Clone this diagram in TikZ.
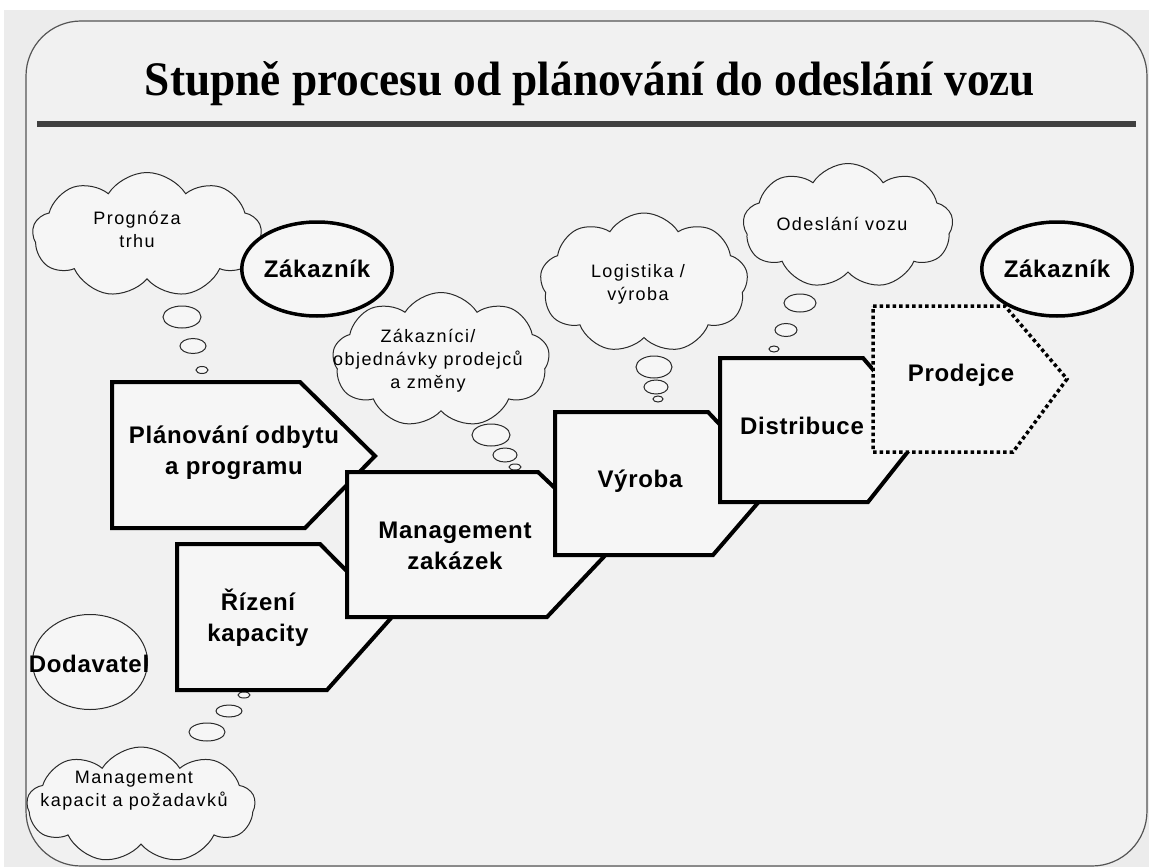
\documentclass[tikz,border=0pt]{standalone}
\usepackage{graphicx}
\usepackage{fontspec}
\setmainfont{Liberation Sans}
\newfontfamily\titlefont{Liberation Serif}
\newfontfamily\cloudfont[LetterSpace=8]{Liberation Sans}
\newfontfamily\boxfont[LetterSpace=3]{Liberation Sans}
\usetikzlibrary{shapes.symbols,shapes.geometric}
\definecolor{outerfill}{HTML}{ECECEC}
\definecolor{framefill}{HTML}{F1F1F1}
\definecolor{framegray}{HTML}{555555}
\definecolor{boxfill}{HTML}{F6F6F6}
\definecolor{linegray}{HTML}{2A2A2A}
\definecolor{rulegray}{HTML}{404040}
\tikzset{
  stagebox/.style={draw=black, line width=4pt, fill=boxfill, line join=miter},
  dottedbox/.style={draw=black, line width=3.5pt, fill=boxfill, dash pattern=on 3.5pt off 3pt},
  cloudbox/.style={cloud, cloud puffs=9, cloud puff arc=115, draw=linegray, line width=1pt, fill=boxfill, inner sep=0pt},
  bubble/.style={ellipse, draw=linegray, line width=1pt, fill=boxfill, inner sep=0pt},
  custlabel/.style={ellipse, draw=black, line width=3.5pt, fill=boxfill, inner sep=0pt, minimum width=130pt, minimum height=94pt, font=\boxfont\bfseries\fontsize{24}{28}\selectfont},
  boxtext/.style={align=center, inner sep=0pt, font=\boxfont\bfseries\fontsize{24}{31}\selectfont},
  cloudtext/.style={align=center, inner sep=0pt, font=\cloudfont\fontsize{18}{23}\selectfont}
}
\begin{document}
\begin{tikzpicture}[x=1pt,y=-1pt]
\useasboundingbox (0,0) rectangle (1149,867);
\fill[white] (0,0) rectangle (1149,867);
\fill[outerfill] (4,10) rectangle (1149,867);
\draw[draw=framegray, line width=1.2pt, fill=framefill, rounded corners=55pt] (26,21) rectangle (1147,866);
% title and rule
\node[anchor=base, inner sep=0pt] (title) at (590,95) {\resizebox{890pt}{34pt}{\titlefont\bfseries Stupně procesu od plánování do odeslání vozu}};
\coordinate (ruleL) at (37,124);
\coordinate (ruleR) at (1136,124);
\draw[rulegray, line width=6pt] (ruleL) -- (ruleR);

% clouds
\node[cloudbox, minimum width=229pt, minimum height=125pt] (cprog) at (147,235) {};
\node[cloudtext] (tprog) at (137,229) {Prognóza\\trhu};
\node[bubble, minimum width=38pt, minimum height=22pt] (pb1) at (182,317) {};
\node[bubble, minimum width=26pt, minimum height=15pt] (pb2) at (193,346) {};
\node[bubble, minimum width=12pt, minimum height=7pt] (pb3) at (202,370) {};

\node[cloudbox, minimum width=217pt, minimum height=135pt] (czak) at (441,360) {};
\node[cloudtext] (tzak) at (428,361) {Zákazníci/\\objednávky prodejců\\a změny};
\node[bubble, minimum width=38pt, minimum height=22pt] (zb1) at (491,435) {};
\node[bubble, minimum width=24pt, minimum height=14pt] (zb2) at (505,455) {};
\node[bubble, minimum width=12pt, minimum height=6pt] (zb3) at (515,467) {};

\node[custlabel] (cust1) at (317,269) {Zákazník};

\node[cloudbox, minimum width=208pt, minimum height=140pt] (clog) at (644,283) {};
\node[cloudtext] (tlog) at (638,284) {Logistika /\\výroba};
\node[bubble, minimum width=36pt, minimum height=22pt] (lb1) at (654,367) {};
\node[bubble, minimum width=24pt, minimum height=14pt] (lb2) at (656,387) {};
\node[bubble, minimum width=10pt, minimum height=6pt] (lb3) at (658,399) {};

\node[cloudbox, minimum width=210pt, minimum height=125pt] (codes) at (848,226) {};
\node[cloudtext] (todes) at (842,224) {Odeslání vozu};
\node[bubble, minimum width=32pt, minimum height=18pt] (ob1) at (800,303) {};
\node[bubble, minimum width=22pt, minimum height=13pt] (ob2) at (786,330) {};
\node[bubble, minimum width=10pt, minimum height=6pt] (ob3) at (774,349) {};

\node[custlabel] (cust2) at (1057,269) {Zákazník};

\node[cloudbox, minimum width=228pt, minimum height=116pt] (cman) at (141,805) {};
\node[cloudtext] (tman) at (134,791) {Management\\kapacit a požadavků};
\node[bubble, minimum width=36pt, minimum height=18pt] (mb1) at (207,732) {};
\node[bubble, minimum width=26pt, minimum height=12pt] (mb2) at (229,711) {};
\node[bubble, minimum width=12pt, minimum height=6pt] (mb3) at (244,695) {};

\node[ellipse, draw=linegray, line width=1pt, fill=boxfill, minimum width=115pt, minimum height=95pt, inner sep=0pt] (supp) at (90,662) {};
\node[boxtext] (tsupp) at (89,664) {Dodavatel};

% process stages
\draw[stagebox] (112,382) -- (300,382) -- (375,456) -- (305,528) -- (112,528) -- cycle;
\node[boxtext] (plan) at (234,453) {Plánování odbytu\\a programu};
\draw[stagebox] (177,544) -- (320,544) -- (392,617) -- (327,690) -- (177,690) -- cycle;
\node[boxtext] (riz) at (258,618) {Řízení\\kapacity};
\draw[stagebox] (347,472) -- (538,472) -- (615,545) -- (547,617) -- (347,617) -- cycle;
\node[boxtext] (mgmt) at (455,546) {Management\\zakázek};
\draw[stagebox] (555,412) -- (708,412) -- (775,483) -- (713,555) -- (555,555) -- cycle;
\node[boxtext] (vyr) at (640,481) {Výroba};
\draw[stagebox] (720,358) -- (863,358) -- (925,430) -- (868,502) -- (720,502) -- cycle;
\node[boxtext] (dist) at (802,426) {Distribuce};
\draw[dottedbox] (873,306) -- (1005,306) -- (1067,379) -- (1013,452) -- (873,452) -- cycle;
\node[boxtext] (prod) at (961,375) {Prodejce};
\end{tikzpicture}
\end{document}
